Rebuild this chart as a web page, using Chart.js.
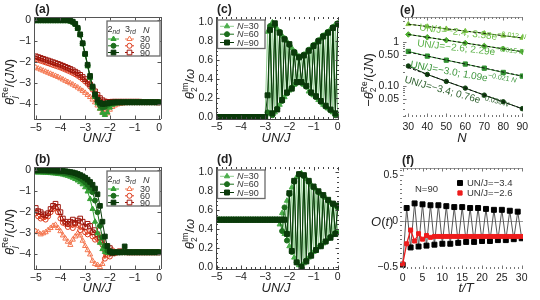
<!DOCTYPE html>
<html>
<head>
<meta charset="utf-8">
<title>Figure</title>
<script src="https://cdn.jsdelivr.net/npm/chart.js@4.4.1/dist/chart.umd.min.js"></script>
<style>
  html, body { margin: 0; padding: 0; background: #fff; }
  #fig { position: relative; width: 540px; height: 300px; overflow: hidden;
         font-family: "Liberation Sans", Arial, sans-serif; color: #222; }
  #fig canvas { position: absolute; }
  .t   { position: absolute; white-space: nowrap; line-height: 1; }
  .lab { font-weight: bold; font-size: 12px; }
  .ax  { font-style: italic; font-size: 13px; transform: translate(-50%, -50%); }
  .yl  { font-size: 13px; transform: translate(-50%, -50%) rotate(-90deg); }
  .ss  { display: inline-block; vertical-align: -3px; font-size: 8.5px; line-height: 9px; }
  .ss span { display: block; }
  .lg  { font-size: 9px; transform: translateY(-50%); color: #333; }
  .lg sub { font-size: 6.5px; font-style: italic; vertical-align: -2px; }
  .fit { font-size: 10px; transform-origin: 0 80%; }
  .fit sup { font-size: 7px; }
</style>
</head>
<body>
<div id="fig">
  <canvas id="pa"></canvas><canvas id="pb"></canvas><canvas id="pc"></canvas>
  <canvas id="pd"></canvas><canvas id="pe"></canvas><canvas id="pf"></canvas>

  <!-- panel labels -->
  <div class="t lab" style="left:35px;top:3px">(a)</div>
  <div class="t lab" style="left:35px;top:153px">(b)</div>
  <div class="t lab" style="left:217px;top:3px">(c)</div>
  <div class="t lab" style="left:217px;top:153px">(d)</div>
  <div class="t lab" style="left:400px;top:4px">(e)</div>
  <div class="t lab" style="left:402px;top:154px">(f)</div>

  <!-- axis titles -->
  <div class="t ax" style="left:97px;top:137px">UN/J</div>
  <div class="t ax" style="left:97px;top:287px">UN/J</div>
  <div class="t ax" style="left:276px;top:137px">UN/J</div>
  <div class="t ax" style="left:276px;top:287px">UN/J</div>
  <div class="t ax" style="left:462px;top:137px">N</div>
  <div class="t ax" style="left:466px;top:287px">t/T</div>

  <div class="t yl" style="left:10px;top:82px"><i>θ</i><span class="ss"><span>Re</span><span><i>j</i></span></span>/(<i>JN</i>)</div>
  <div class="t yl" style="left:10px;top:232px"><i>θ</i><span class="ss"><span>Re</span><span><i>j</i></span></span>/(<i>JN</i>)</div>
  <div class="t yl" style="left:190px;top:84px"><i>θ</i><span class="ss"><span>Im</span><span>2</span></span>/<i>ω</i></div>
  <div class="t yl" style="left:190px;top:234px"><i>θ</i><span class="ss"><span>Im</span><span>2</span></span>/<i>ω</i></div>
  <div class="t yl" style="left:369px;top:80px">−<i>θ</i><span class="ss"><span>Re</span><span>2</span></span>/(<i>JN</i>)</div>
  <div class="t" style="left:371px;top:221px;font-size:13px;transform:translateY(-50%)"><i>O</i>(<i>t</i>)</div>

  <!-- legend texts (a), (b) -->
  <div class="t lg" style="left:107.5px;top:29.5px">2<sub>nd</sub></div>
  <div class="t lg" style="left:125px;top:29.5px">3<sub>rd</sub></div>
  <div class="t lg" style="left:143px;top:29.5px"><i>N</i></div>
  <div class="t lg" style="left:140px;top:39px">30</div>
  <div class="t lg" style="left:140px;top:45.8px">60</div>
  <div class="t lg" style="left:140px;top:52.5px">90</div>
  <div class="t lg" style="left:107.5px;top:179.5px">2<sub>nd</sub></div>
  <div class="t lg" style="left:125px;top:179.5px">3<sub>rd</sub></div>
  <div class="t lg" style="left:143px;top:179.5px"><i>N</i></div>
  <div class="t lg" style="left:140px;top:189px">30</div>
  <div class="t lg" style="left:140px;top:195.8px">60</div>
  <div class="t lg" style="left:140px;top:202.5px">90</div>

  <!-- legend texts (c), (d) -->
  <div class="t lg" style="left:237px;top:26.3px"><i>N</i>=30</div>
  <div class="t lg" style="left:237px;top:34.2px"><i>N</i>=60</div>
  <div class="t lg" style="left:237px;top:42.5px"><i>N</i>=90</div>
  <div class="t lg" style="left:237px;top:176.3px"><i>N</i>=30</div>
  <div class="t lg" style="left:237px;top:184.2px"><i>N</i>=60</div>
  <div class="t lg" style="left:237px;top:192.5px"><i>N</i>=90</div>

  <!-- fit labels (e) -->
  <div class="t fit" style="left:419px;top:20px;color:#6dbf45;transform:rotate(7deg)">UN/J=−2.4; 3.58e<sup>−0.012 <i>N</i></sup></div>
  <div class="t fit" style="left:416.5px;top:35.5px;color:#58b045;transform:rotate(6.5deg)">UN/J=−2.6; 2.29e<sup>−0.015 <i>N</i></sup></div>
  <div class="t fit" style="left:410px;top:57px;color:#3d963d;transform:rotate(10.5deg)">UN/J=−3.0; 1.09e<sup>−0.021 <i>N</i></sup></div>
  <div class="t fit" style="left:403.5px;top:72px;color:#2b5e2b;transform:rotate(15.5deg)">UN/J=−3.4; 0.76e<sup>−0.036 <i>N</i></sup></div>

  <!-- legend (f) -->
  <div class="t lg" style="left:415px;top:189px;font-size:9.5px">N=90</div>
  <div class="t lg" style="left:467px;top:183px;font-size:9.5px">UN/J=−3.4</div>
  <div class="t lg" style="left:467px;top:193px;font-size:9.5px">UN/J=−2.6</div>
</div>

<script>
/* ── Data ── */
const UN = [-5.0,-4.9,-4.8,-4.7,-4.6,-4.5,-4.4,-4.3,-4.2,-4.1,
            -4.0,-3.9,-3.8,-3.7,-3.6,-3.5,-3.4,-3.3,-3.2,-3.1,
            -3.0,-2.9,-2.8,-2.7,-2.6,-2.5,-2.4,-2.3,-2.2,-2.1,
            -2.0,-1.9,-1.8,-1.7,-1.6,-1.5,-1.4,-1.3,-1.2,-1.1,
            -1.0,-0.9,-0.8,-0.7,-0.6,-0.5,-0.4,-0.3,-0.2,-0.1,0.0];

// (a) 2nd / 3rd order, N = 30, 60, 90
const a2N30 = [-0.05,-0.05,-0.05,-0.05,-0.05,-0.05,-0.05,-0.05,-0.05,-0.05,
               -0.05,-0.05,-0.05,-0.05,-0.07,-0.12,-0.22,-0.42,-0.72,-1.15,
               -1.65,-2.2,-2.75,-3.25,-3.65,-3.95,-4.2,-4.4,-4.5,-4.38,
               -4.15,-4.02,-3.96,-3.94,-3.93,-3.92,-3.92,-3.91,-3.91,-3.91,
               -3.91,-3.91,-3.91,-3.91,-3.91,-3.91,-3.91,-3.91,-3.91,-3.91,-3.91];
const a2N60 = [-0.03,-0.03,-0.03,-0.03,-0.03,-0.03,-0.03,-0.03,-0.03,-0.03,
               -0.03,-0.03,-0.03,-0.03,-0.05,-0.1,-0.2,-0.4,-0.7,-1.12,
               -1.62,-2.15,-2.7,-3.2,-3.6,-3.88,-4.05,-4.15,-4.12,-4.02,
               -3.96,-3.93,-3.92,-3.91,-3.91,-3.91,-3.9,-3.9,-3.9,-3.9,
               -3.9,-3.9,-3.9,-3.9,-3.9,-3.9,-3.9,-3.9,-3.9,-3.9,-3.9];
const a2N90 = [-0.01,-0.01,-0.01,-0.01,-0.01,-0.01,-0.01,-0.01,-0.01,-0.01,
               -0.01,-0.01,-0.01,-0.01,-0.03,-0.08,-0.18,-0.38,-0.68,-1.1,
               -1.6,-2.12,-2.65,-3.15,-3.52,-3.78,-3.92,-3.98,-3.97,-3.94,
               -3.92,-3.91,-3.9,-3.9,-3.9,-3.9,-3.9,-3.9,-3.9,-3.9,
               -3.9,-3.9,-3.9,-3.9,-3.9,-3.9,-3.9,-3.9,-3.9,-3.9,-3.9];
const a3N30 = [-2.25,-2.3,-2.35,-2.4,-2.45,-2.5,-2.55,-2.6,-2.65,-2.7,
               -2.76,-2.82,-2.88,-2.94,-3.0,-3.06,-3.13,-3.2,-3.28,-3.36,
               -3.45,-3.55,-3.65,-3.77,-3.9,-4.05,-4.2,-4.35,-4.48,-4.42,
               -4.25,-4.12,-4.05,-4.0,-3.97,-3.95,-3.94,-3.93,-3.92,-3.92,
               -3.92,-3.92,-3.92,-3.92,-3.92,-3.92,-3.92,-3.92,-3.92,-3.92,-3.92];
const a3N60 = [-1.85,-1.89,-1.93,-1.97,-2.01,-2.05,-2.09,-2.13,-2.17,-2.21,
               -2.25,-2.3,-2.35,-2.4,-2.45,-2.51,-2.57,-2.64,-2.72,-2.81,
               -2.91,-3.02,-3.15,-3.3,-3.47,-3.65,-3.85,-4.05,-4.2,-4.12,
               -4.0,-3.95,-3.92,-3.9,-3.9,-3.9,-3.9,-3.9,-3.9,-3.9,
               -3.9,-3.9,-3.9,-3.9,-3.9,-3.9,-3.9,-3.9,-3.9,-3.9,-3.9];
const a3N90 = [-1.72,-1.76,-1.8,-1.84,-1.88,-1.92,-1.96,-2.0,-2.04,-2.08,
               -2.12,-2.17,-2.22,-2.27,-2.32,-2.38,-2.45,-2.52,-2.6,-2.7,
               -2.8,-2.92,-3.05,-3.2,-3.38,-3.55,-3.7,-3.8,-3.86,-3.88,
               -3.88,-3.87,-3.87,-3.87,-3.87,-3.87,-3.87,-3.87,-3.87,-3.87,
               -3.87,-3.87,-3.87,-3.88,-3.88,-3.88,-3.89,-3.89,-3.89,-3.9,-3.9];

// (b)
const b2N30 = [-0.12,-0.12,-0.12,-0.13,-0.13,-0.14,-0.15,-0.16,-0.17,-0.19,
               -0.2,-0.22,-0.25,-0.28,-0.32,-0.37,-0.43,-0.5,-0.58,-0.68,
               -0.82,-1.02,-1.38,-1.85,-2.45,-3.0,-3.45,-3.75,-3.88,-3.92,
               -3.92,-3.92,-3.92,-3.92,-3.92,-3.92,-3.92,-3.92,-3.92,-3.92,
               -3.92,-3.92,-3.92,-3.92,-3.92,-3.92,-3.92,-3.92,-3.92,-3.92,-3.92];
const b2N60 = [-0.05,-0.05,-0.05,-0.06,-0.06,-0.07,-0.07,-0.08,-0.09,-0.1,
               -0.11,-0.13,-0.15,-0.17,-0.2,-0.24,-0.28,-0.33,-0.4,-0.48,
               -0.58,-0.7,-0.85,-1.05,-1.45,-2.0,-2.65,-3.2,-3.6,-3.82,
               -3.9,-3.9,-3.9,-3.9,-3.9,-3.9,-3.9,-3.9,-3.9,-3.9,
               -3.9,-3.9,-3.9,-3.9,-3.9,-3.9,-3.9,-3.9,-3.9,-3.9,-3.9];
const b2N90 = [-0.01,-0.01,-0.01,-0.01,-0.01,-0.02,-0.02,-0.02,-0.03,-0.03,
               -0.04,-0.05,-0.06,-0.08,-0.1,-0.12,-0.15,-0.19,-0.24,-0.3,
               -0.37,-0.46,-0.57,-0.7,-0.88,-1.15,-1.7,-2.45,-3.15,-3.6,
               -3.85,-3.92,-3.9,-3.9,-3.9,-3.9,-3.62,-3.9,-3.9,-3.9,
               -3.9,-3.9,-3.9,-3.9,-3.9,-3.9,-3.9,-3.9,-3.9,-3.9,-3.9];
const b3N30 = [-2.9,-2.95,-3.05,-3.0,-2.95,-2.85,-2.75,-2.65,-2.6,-2.75,
               -2.9,-3.1,-3.25,-3.4,-3.55,-3.3,-3.15,-3.0,-3.1,-3.35,
               -3.6,-3.8,-4.0,-4.3,-4.45,-4.5,-4.6,-4.45,-3.6,-4.05,
               -3.85,-3.95,-3.9,-3.9,-3.9,-3.9,-3.9,-3.9,-3.9,-3.9,
               -3.9,-3.9,-3.9,-3.9,-3.9,-3.9,-3.9,-3.9,-3.9,-3.9,-3.9];
const b3N60 = [-2.05,-2.2,-2.3,-2.25,-2.35,-2.2,-2.0,-1.85,-1.8,-2.0,
               -2.3,-2.5,-2.55,-2.7,-2.6,-2.75,-2.55,-2.6,-2.85,-2.7,
               -2.95,-3.05,-2.9,-3.15,-3.3,-3.25,-3.4,-3.55,-4.2,-3.6,
               -4.1,-3.8,-3.95,-3.9,-3.9,-3.9,-3.9,-3.9,-3.9,-3.9,
               -3.9,-3.9,-3.9,-3.9,-3.9,-3.9,-3.9,-3.9,-3.9,-3.9,-3.9];
const b3N90 = [-1.8,-1.95,-2.0,-2.1,-2.15,-2.05,-1.85,-1.7,-1.6,-1.75,
               -2.0,-2.3,-2.45,-2.55,-2.45,-2.35,-2.5,-2.4,-2.3,-2.45,
               -2.7,-2.55,-2.65,-2.95,-2.85,-3.05,-3.2,-3.35,-3.75,-3.9,
               -3.7,-3.95,-3.88,-3.9,-3.85,-3.88,-3.88,-3.9,-3.9,-3.9,
               -3.9,-3.9,-3.9,-3.9,-3.9,-3.9,-3.9,-3.9,-3.9,-3.9,-3.9];

// (c) theta_2^Im / omega
const cN30 = [0,0,0,0,0,0,0,0,0,0, 0,0,0,0,0,0,0,0,0,0, 0,
              0.90,0.03,1.00,0.05,0.93,0.13,0.86,0.21,0.80,0.28,
              0.73,0.34,0.66,0.37,0.64,0.34,0.68,0.27,0.73,0.23,
              0.78,0.18,0.83,0.13,0.88,0.09,0.93,0.05,0.98,0.01];
const cN60 = [0,0,0,0,0,0,0,0,0,0, 0,0,0,0,0,0,0,0,0,0, 0,
              0.05,0.96,0.02,0.97,0.09,0.90,0.17,0.83,0.25,0.76,
              0.31,0.69,0.36,0.64,0.36,0.66,0.32,0.71,0.25,0.76,
              0.21,0.81,0.16,0.86,0.11,0.90,0.07,0.95,0.02,0.99];
const cN90 = [0,0,0,0,0,0,0,0,0,0, 0,0,0,0,0,0,0,0,0,0, 0,
              0.23,0.92,0.04,0.99,0.08,0.89,0.18,0.82,0.26,0.77,
              0.30,0.68,0.37,0.63,0.37,0.65,0.33,0.70,0.26,0.75,
              0.22,0.80,0.17,0.85,0.12,0.89,0.08,0.94,0.04,0.98];

// (d)
const dN30 = [0.5,0.5,0.5,0.5,0.5,0.5,0.5,0.5,0.5,0.5,
              0.5,0.5,0.5,0.5,0.5,0.5,0.5,0.5,0.5,0.5,
              0.5,0.5,0.5,0.5,0.5,0.5,
              0.45,0.57,0.35,0.70,0.22,0.84,0.10,0.95,0.02,0.99,
              0.04,0.93,0.10,0.87,0.16,0.82,0.21,0.77,0.25,0.73,
              0.30,0.68,0.34,0.64,0.37];
const dN60 = [0.5,0.5,0.5,0.5,0.5,0.5,0.5,0.5,0.5,0.5,
              0.5,0.5,0.5,0.5,0.5,0.5,0.5,0.5,0.5,0.5,
              0.5,0.5,0.5,0.5,0.5,0.5,0.5,
              0.38,0.63,0.28,0.77,0.16,0.90,0.05,0.98,0.01,0.96,
              0.07,0.90,0.13,0.84,0.18,0.79,0.23,0.75,0.27,0.70,
              0.32,0.66,0.36,0.63];
const dN90 = [0.5,0.5,0.5,0.5,0.5,0.5,0.5,0.5,0.5,0.5,
              0.5,0.5,0.5,0.5,0.5,0.5,0.5,0.5,0.5,0.5,
              0.5,0.5,0.5,0.5,0.5,0.5,0.5,0.5,0.5,
              0.35,0.78,0.17,0.91,0.05,0.98,0.00,0.97,0.06,0.91,
              0.12,0.85,0.18,0.80,0.22,0.76,0.27,0.71,0.31,0.67,
              0.35,0.65];

// (e) -theta_2^Re/(JN) vs N, with exponential fits
const eN      = [30, 40, 50, 60, 70, 80, 90];
const eU24    = [2.50, 2.21, 1.97, 1.74, 1.55, 1.37, 1.22];
const eU26    = [1.46, 1.26, 1.08, 0.93, 0.80, 0.69, 0.59];
const eU30    = [0.60, 0.47, 0.38, 0.31, 0.25, 0.20, 0.165];
const eU34    = [0.28, 0.18, 0.125, 0.088, 0.061, 0.043, 0.030];
const fitN    = [30, 90];
const fitU24  = [2.50, 1.216];
const fitU26  = [1.46, 0.594];
const fitU30  = [0.581, 0.165];
const fitU34  = [0.258, 0.0298];
const eTicks  = [0.05, 0.1, 0.5, 1];
const eLabels = ['0.05', '0.10', '0.50', '1'];

// (f) O(t), N = 90
const fT   = [0,1,2,3,4,5,6,7,8,9,10,11,12,13,14,15,16,17,18,19,20,21,22,23,24,25,26,27,28,29,30];
const fU34 = [-0.48,0.14,-0.29,0.19,-0.28,0.18,-0.27,0.17,-0.26,0.17,-0.25,0.16,-0.25,0.15,-0.24,0.15,
              -0.23,0.14,-0.23,0.14,-0.22,0.13,-0.22,0.12,-0.21,0.12,-0.21,0.11,-0.2,0.1,-0.19];
const fU26 = [-0.47,-0.25,-0.1,-0.22,-0.14,-0.2,-0.16,-0.18,-0.17,-0.17,-0.17,-0.17,-0.17,-0.17,-0.17,-0.17,
              -0.17,-0.17,-0.17,-0.17,-0.17,-0.17,-0.17,-0.17,-0.17,-0.17,-0.17,-0.17,-0.17,-0.17,-0.17];

/* ── Colours ── */
const G30 = '#35a035', G60 = '#1c6e1c', G90 = '#0b3a0b';
const R30 = '#f4764f', R60 = '#dc3c1e', R90 = '#9e160c';
const C30 = '#4cae4c', C30L = '#8fcd8f';

/* ── Helpers ── */
const fmt = (v, dec) => (dec ? v.toFixed(dec) : String(v)).replace('-', '−');

function series(xs, ys, color, style, r, o = {}) {
  return {
    data: xs.map((x, i) => ({ x, y: ys[i] })),
    borderColor: o.line || color,
    borderWidth: o.lw || 1,
    borderDash: o.dash || [],
    pointStyle: style,
    pointRadius: r,
    pointBorderWidth: 1,
    pointBorderColor: color,
    pointBackgroundColor: o.hollow ? 'rgba(255,255,255,0)' : color,
    tension: 0
  };
}

function axis(s, which, size) {
  return {
    type: s.type || 'linear', min: s.min, max: s.max,
    grid: { display: false, drawTicks: false }, border: { display: false },
    afterBuildTicks: sc => { sc.ticks = s.ticks.map(v => ({ value: v })); },
    afterFit: sc => { if (which === 'x') sc.height = size; else sc.width = size; },
    ticks: {
      padding: s.pad, color: '#222', autoSkip: false, maxRotation: 0,
      font: { family: 'Liberation Sans', size: 10.5 },
      callback: (v, i) => s.labels ? s.labels[i] : fmt(v, s.dec)
    }
  };
}

/* ── Frame, ticks and key markers drawn on top of the plot ── */
function decor(cfg) {
  return {
    id: 'decor',
    beforeDatasetsDraw(chart) {
      if (!cfg.zero) return;
      const { ctx, chartArea: a, scales: { y } } = chart;
      const py = Math.round(y.getPixelForValue(0)) + 0.5;
      ctx.save();
      ctx.strokeStyle = '#9a9a9a'; ctx.lineWidth = 1;
      ctx.beginPath(); ctx.moveTo(a.left, py); ctx.lineTo(a.right, py); ctx.stroke();
      ctx.restore();
    },
    afterDatasetsDraw(chart) {
      const { ctx, chartArea: a, scales: { x, y } } = chart;
      const s = cfg.sides;
      ctx.save();
      ctx.lineWidth = 1;

      // solid sides
      ctx.strokeStyle = cfg.color;
      ctx.beginPath();
      if (s.top === 'line')    { ctx.moveTo(a.left, a.top + 0.5);    ctx.lineTo(a.right, a.top + 0.5); }
      if (s.bottom === 'line') { ctx.moveTo(a.left, a.bottom + 0.5); ctx.lineTo(a.right, a.bottom + 0.5); }
      if (s.left === 'line')   { ctx.moveTo(a.left + 0.5, a.top);    ctx.lineTo(a.left + 0.5, a.bottom); }
      if (s.right === 'line')  { ctx.moveTo(a.right + 0.5, a.top);   ctx.lineTo(a.right + 0.5, a.bottom); }
      ctx.stroke();

      // inward tick marks
      ctx.strokeStyle = cfg.tickColor || cfg.color;
      ctx.beginPath();
      const xMark = (v, len) => {
        const px = Math.round(x.getPixelForValue(v)) + 0.5;
        if (s.bottom !== 'none') { ctx.moveTo(px, a.bottom); ctx.lineTo(px, a.bottom - len); }
        if (s.top !== 'none')    { ctx.moveTo(px, a.top);    ctx.lineTo(px, a.top + len); }
      };
      const yMark = (v, len) => {
        const py = Math.round(y.getPixelForValue(v)) + 0.5;
        if (s.left !== 'none')  { ctx.moveTo(a.left, py);  ctx.lineTo(a.left + len, py); }
        if (s.right !== 'none') { ctx.moveTo(a.right, py); ctx.lineTo(a.right - len, py); }
      };
      x.ticks.forEach(t => xMark(t.value, 3.5));
      y.ticks.forEach(t => yMark(t.value, 3.5));
      if (cfg.minorX) {
        for (let v = Math.ceil(x.min / cfg.minorX) * cfg.minorX; v <= x.max + 1e-9; v += cfg.minorX) xMark(v, 2);
      }
      if (cfg.minorY) {
        for (let v = Math.ceil(y.min / cfg.minorY) * cfg.minorY; v <= y.max + 1e-9; v += cfg.minorY) yMark(v, 2);
      }
      if (cfg.minorYList) cfg.minorYList.forEach(v => yMark(v, 2));
      ctx.stroke();

      // key box + sample markers
      const k = cfg.key;
      if (k) {
        if (k.box) {
          ctx.fillStyle = '#fff';
          ctx.fillRect(k.box[0], k.box[1], k.box[2], k.box[3]);
          ctx.strokeStyle = '#6a6a6a'; ctx.lineWidth = 1.3;
          ctx.strokeRect(k.box[0], k.box[1], k.box[2], k.box[3]);
        }
        k.items.forEach(it => {
          ctx.lineWidth = 1;
          if (it.line) {
            ctx.strokeStyle = it.lineColor || it.color;
            ctx.beginPath(); ctx.moveTo(it.line[0], it.y); ctx.lineTo(it.line[1], it.y); ctx.stroke();
          }
          ctx.fillStyle = it.hollow ? '#fff' : it.color;
          ctx.strokeStyle = it.color;
          Chart.helpers.drawPoint(ctx, { pointStyle: it.style, radius: it.r, rotation: 0, borderWidth: 1 }, it.x, it.y);
        });
      }
      ctx.restore();
    }
  };
}

function panel(id, box, area, xs, ys, datasets, cfg) {
  const cv = document.getElementById(id);
  cv.width = box.w; cv.height = box.h;
  cv.style.left = box.x + 'px'; cv.style.top = box.y + 'px';
  return new Chart(cv.getContext('2d'), {
    type: 'line',
    data: { datasets },
    options: {
      responsive: false, animation: false, devicePixelRatio: 1,
      layout: { padding: { top: area.top - box.y, right: box.x + box.w - area.right, left: 0, bottom: 0 } },
      plugins: { legend: { display: false }, tooltip: { enabled: false } },
      scales: {
        x: axis(xs, 'x', box.y + box.h - area.bottom),
        y: axis(ys, 'y', area.left - box.x)
      }
    },
    plugins: [decor(cfg)]
  });
}

/* ── Shared axis settings ── */
const xUN   = { min: -5.07, max: 0.07, ticks: [-5, -4, -3, -2, -1, 0], pad: 3 };
const yRe   = { min: -4.69, max: 0.14, ticks: [-4, -3, -2, -1, 0], pad: 3 };
const xUNc  = { min: -5.03, max: 0.05, ticks: [-5, -4, -3, -2, -1, 0], pad: 1.5 };
const yIm   = { min: -0.02, max: 1.056, ticks: [0, 0.2, 0.4, 0.6, 0.8, 1.0], dec: 1, pad: 3 };

const boxSides = { top: 'line', right: 'line', bottom: 'line', left: 'line' };
const halfSides = { top: 'ticks', right: 'ticks', bottom: 'line', left: 'line' };

function keyAB() {
  const rows = [39, 45.8, 52.5];
  const styles = ['triangle', 'circle', 'rect'];
  const rs = [3, 2.5, 3.3];
  const items = [];
  [G30, G60, G90].forEach((c, i) => items.push({ x: 113.5, y: rows[i], line: [108, 119], color: c, style: styles[i], r: rs[i] }));
  [R30, R60, R90].forEach((c, i) => items.push({ x: 129.5, y: rows[i], line: [125, 134], color: c, style: styles[i], r: rs[i], hollow: true }));
  return { box: [107, 21, 53, 35], items };
}

function keyCD() {
  const rows = [26.3, 34.2, 42.5];
  return {
    box: [37.5, 20, 47.5, 28.5],
    items: [
      { x: 47, y: rows[0], line: [40, 54], color: C30, lineColor: C30L, style: 'triangle', r: 3 },
      { x: 47, y: rows[1], line: [40, 54], color: G60, style: 'circle', r: 2.5 },
      { x: 47, y: rows[2], line: [40, 54], color: G90, style: 'rect', r: 3.5 }
    ]
  };
}

/* ── (a) ── */
panel('pa', { x: 0, y: 0, w: 180, h: 150 }, { left: 34, top: 17, right: 161, bottom: 119 }, xUN, yRe, [
  series(UN, a2N90, G90, 'rect', 3.3),
  series(UN, a2N60, G60, 'circle', 2.5),
  series(UN, a2N30, G30, 'triangle', 3),
  series(UN, a3N90, R90, 'rect', 3.3, { hollow: true }),
  series(UN, a3N60, R60, 'circle', 2.5, { hollow: true }),
  series(UN, a3N30, R30, 'triangle', 3, { hollow: true })
], { sides: boxSides, color: '#555', key: keyAB() });

/* ── (b) ── */
panel('pb', { x: 0, y: 150, w: 180, h: 150 }, { left: 34, top: 167, right: 161, bottom: 269 }, xUN, yRe, [
  series(UN, b2N90, G90, 'rect', 3.3),
  series(UN, b2N60, G60, 'circle', 2.5),
  series(UN, b2N30, G30, 'triangle', 3),
  series(UN, b3N90, R90, 'rect', 3.3, { hollow: true }),
  series(UN, b3N60, R60, 'circle', 2.5, { hollow: true }),
  series(UN, b3N30, R30, 'triangle', 3, { hollow: true })
], { sides: boxSides, color: '#555', key: keyAB() });

/* ── (c) ── */
panel('pc', { x: 180, y: 0, w: 180, h: 150 }, { left: 216, top: 17, right: 339, bottom: 119 }, xUNc, yIm, [
  series(UN, cN90, G90, 'rect', 3.5),
  series(UN, cN60, G60, 'circle', 2.5),
  series(UN, cN30, C30, 'triangle', 3, { line: C30L })
], { sides: halfSides, color: '#444', minorX: 0.2, minorY: 0.05, key: keyCD() });

/* ── (d) ── */
panel('pd', { x: 180, y: 150, w: 180, h: 150 }, { left: 216, top: 167, right: 339, bottom: 269 }, xUNc, yIm, [
  series(UN, dN90, G90, 'rect', 3.5),
  series(UN, dN60, G60, 'circle', 2.5),
  series(UN, dN30, C30, 'triangle', 3, { line: C30L })
], { sides: halfSides, color: '#444', minorX: 0.2, minorY: 0.05, key: keyCD() });

/* ── (e) ── */
panel('pe', { x: 360, y: 0, w: 180, h: 150 }, { left: 403, top: 17, right: 523, bottom: 117 },
  { min: 27.2, max: 90.4, ticks: [30, 40, 50, 60, 70, 80, 90], pad: 4 },
  { type: 'logarithmic', min: 0.0194, max: 3.64, ticks: eTicks, labels: eLabels, pad: 4 }, [
  series(fitN, fitU24, '#111', 'circle', 0, { dash: [3, 2] }),
  series(fitN, fitU26, '#111', 'circle', 0, { dash: [3, 2] }),
  series(fitN, fitU30, '#111', 'circle', 0, { dash: [3, 2] }),
  series(fitN, fitU34, '#111', 'circle', 0, { dash: [3, 2] }),
  series(eN, eU24, '#7dc242', 'triangle', 2.8),
  series(eN, eU26, '#4fae32', 'rectRot', 2.8),
  series(eN, eU30, '#2f8f2f', 'rect', 3),
  series(eN, eU34, '#0e3e0e', 'circle', 2.2)
], { sides: { top: 'line', right: 'none', bottom: 'ticks', left: 'ticks' }, color: '#999', tickColor: '#777',
     minorX: 2, minorYList: [0.02, 0.03, 0.04, 0.06, 0.07, 0.08, 0.09, 0.2, 0.3, 0.4, 0.6, 0.7, 0.8, 0.9, 2, 3] });

/* ── (f) ── */
panel('pf', { x: 360, y: 150, w: 180, h: 150 }, { left: 400, top: 168, right: 523, bottom: 269 },
  { min: -0.68, max: 30.33, ticks: [0, 5, 10, 15, 20, 25, 30], pad: 3 },
  { min: -0.525, max: 0.576, ticks: [-0.5, 0, 0.5], pad: 2 }, [
  series(fT, fU26, '#ee1c1c', 'rect', 2.8, { lw: 1.3 }),
  series(fT, fU34, '#000', 'rect', 3.5, { line: '#555' })
], { sides: { top: 'line', right: 'none', bottom: 'ticks', left: 'ticks' }, color: '#999', tickColor: '#777',
     minorX: 1, minorY: 0.05, zero: true,
     key: { items: [
       { x: 100, y: 33, color: '#000', style: 'rect', r: 3.5 },
       { x: 100, y: 43, color: '#ee1c1c', style: 'rect', r: 3 }
     ] } });
</script>
</body>
</html>
